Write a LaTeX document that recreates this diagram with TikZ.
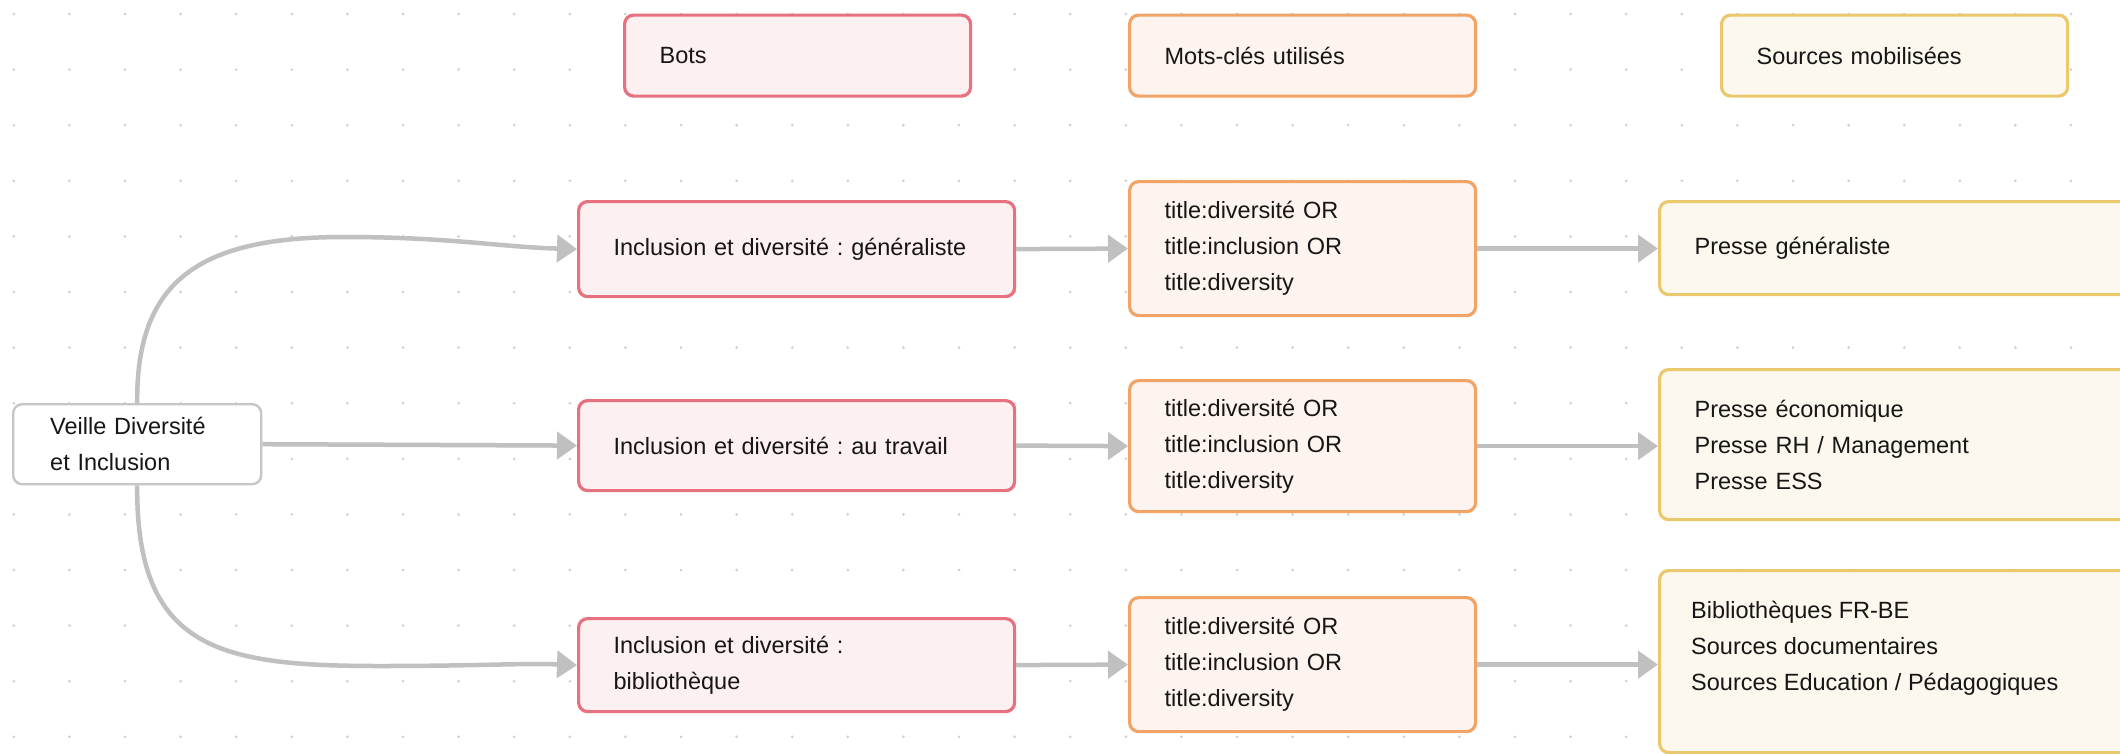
\documentclass[tikz,border=0pt]{standalone}
\usepackage{fontspec}
\setmainfont{Liberation Sans}
\usetikzlibrary{arrows.meta}
\frenchspacing
\definecolor{dotc}{HTML}{D0D0D0}
\definecolor{edgec}{HTML}{C0C0C0}
\definecolor{redb}{HTML}{E8717F}
\definecolor{redf}{HTML}{FDF0F1}
\definecolor{orb}{HTML}{F2A466}
\definecolor{orf}{HTML}{FDF4EF}
\definecolor{yeb}{HTML}{E9C86E}
\definecolor{yef}{HTML}{FDF8EE}
\definecolor{grb}{HTML}{C6C6C6}
\definecolor{txt}{HTML}{161616}
\begin{document}
\begin{tikzpicture}[x=1pt,y=-1pt,
  box/.style={draw, line width=3.2pt, rounded corners=9pt, anchor=north west,
    inner ysep=0pt, inner xsep=35pt, align=left, text=txt,
    font=\fontsize{23.5}{36}\selectfont},
  botbox/.style={box, draw=redb, fill=redf},
  motbox/.style={box, draw=orb, fill=orf},
  srcbox/.style={box, draw=yeb, fill=yef},
  rootbox/.style={box, draw=grb, fill=white, line width=2.4pt, inner xsep=37pt},
  flow/.style={draw=edgec, line width=4.5pt, -{Triangle[length=20pt,width=27pt]}}
]
\useasboundingbox (0,0) rectangle (2120,753);
\fill[white] (0,0) rectangle (2120,753);
% dot grid
\foreach \i in {0,...,37}{
  \foreach \j in {0,...,13}{
    \fill[dotc] (13.8+55.6*\i,14+55.6*\j) circle (1.5pt);
  }
}
% headers
\node[botbox, text width=276pt, minimum height=81pt] (hb) at (623,13.5) {Bots};
\node[motbox, text width=276pt, minimum height=81pt] (hm) at (1128,13.5) {Mots-clés utilisés};
\node[srcbox, text width=276pt, minimum height=81pt] (hs) at (1720,13.5) {Sources mobilisées};
% root
\node[rootbox, text width=174pt, minimum height=80pt] (v) at (12,403) {Veille Diversité\\et Inclusion};
% row 1
\node[botbox, text width=366pt, minimum height=95pt] (b1) at (577,200) {Inclusion et diversité : généraliste};
\node[motbox, text width=276pt, minimum height=134pt] (m1) at (1128,180) {title:diversité OR\\title:inclusion OR\\title:diversity};
\node[srcbox, text width=450pt, minimum height=93pt] (s1) at (1658,200) {Presse généraliste};
% row 2
\node[botbox, text width=366pt, minimum height=90pt] (b2) at (577,399) {Inclusion et diversité : au travail};
\node[motbox, text width=276pt, minimum height=131pt] (m2) at (1128,379) {title:diversité OR\\title:inclusion OR\\title:diversity};
\node[srcbox, text width=450pt, minimum height=150pt] (s2) at (1658,368) {Presse économique\\Presse RH / Management\\Presse ESS};
% row 3
\node[botbox, text width=366pt, minimum height=93pt] (b3) at (577,617) {Inclusion et diversité :\\bibliothèque};
\node[motbox, text width=276pt, minimum height=134pt] (m3) at (1128,596) {title:diversité OR\\title:inclusion OR\\title:diversity};
\node[srcbox, text width=450pt, minimum height=182pt, text height=0pt] (s3) at (1658,569) {};
\node[anchor=west, align=left, text=txt, inner sep=0pt, font=\fontsize{23.5}{36}\selectfont] (s3t) at (1691,648) {Bibliothèques FR-BE\\Sources documentaires\\Sources Education / Pédagogiques};
% connectors
\draw[flow] (v.north) .. controls (136,280) and (200,237) .. (344,237) .. controls (450,237) and (500,247) .. (b1.west);
\draw[flow] (v.east) -- (b2.west);
\draw[flow] (v.south) .. controls (136,650) and (220,666) .. (380,666) .. controls (480,666) and (520,663) .. (b3.west);
\draw[flow] (b1.east) -- (m1.west);
\draw[flow] (b2.east) -- (m2.west);
\draw[flow] (b3.east) -- (m3.west);
\draw[flow] (m1.east) -- (m1.east -| s1.west);
\draw[flow] (m2.east) -- (m2.east -| s2.west);
\draw[flow] (m3.east) -- (m3.east -| s3.west);
\end{tikzpicture}
\end{document}
